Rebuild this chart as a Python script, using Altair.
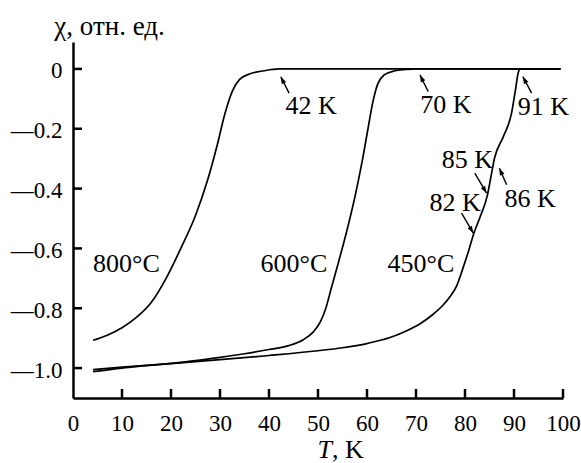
import math
import altair as alt
import pandas as pd

# --- susceptibility curves chi(T) after annealing at three temperatures ---
T_800 = [4.1, 7, 10, 13, 16, 19, 22, 25, 27.5, 29.5, 31, 32.5, 34, 36, 39, 42, 99.5]
chi_800 = [-0.907, -0.89, -0.865, -0.83, -0.78, -0.70, -0.60, -0.49, -0.37, -0.25, -0.15,
           -0.075, -0.035, -0.017, -0.006, 0, 0]

T_600 = [4.1, 10, 15, 20, 25, 30, 35, 40, 44, 47, 49, 50.5, 51.6, 52.6, 54.2, 55.9, 57.5,
         59, 60.2, 61.2, 62.2, 63.5, 65.5, 68, 70, 99.5]
chi_600 = [-1.012, -1.0, -0.992, -0.984, -0.975, -0.964, -0.952, -0.938, -0.925, -0.905,
           -0.88, -0.845, -0.80, -0.74, -0.645, -0.54, -0.43, -0.31, -0.20, -0.11, -0.05,
           -0.02, -0.007, -0.002, 0, 0]

T_450 = [4.1, 10, 20, 30, 40, 50, 55, 60, 64.7, 68, 71, 73.5, 75.5, 77, 78.3, 79.5, 80.7,
         81.8, 83.1, 84.6, 85.3, 86.0, 87.8, 89.5, 90.3, 90.9, 91.3, 99.5]
chi_450 = [-1.005, -0.997, -0.985, -0.972, -0.958, -0.942, -0.932, -0.918, -0.898, -0.876,
           -0.85, -0.82, -0.79, -0.76, -0.725, -0.67, -0.61, -0.55, -0.494, -0.42, -0.36,
           -0.30, -0.227, -0.148, -0.07, -0.01, 0, 0]

# --- axis ticks ---
x_ticks = [10, 20, 30, 40, 50, 60, 70, 80, 90, 100]
y_ticks = [0, -0.2, -0.4, -0.6, -0.8, -1.0]

# --- curve labels ---
curve_label = ["800°C", "600°C", "450°C"]
curve_label_T = [10.9, 45.1, 71.0]
curve_label_chi = [-0.68, -0.68, -0.68]

# --- transition-point annotations: label position, arrow tail and arrow head ---
tc_label = ["42 K", "70 K", "91 K", "85 K", "82 K", "86 K"]
tc_label_T = [48.6, 76.1, 96.0, 80.5, 78.0, 93.3]
tc_label_chi = [-0.150, -0.148, -0.154, -0.332, -0.476, -0.460]
tail_T = [44.1, 72.5, 93.6, 82.0, 79.3, 88.5]
tail_chi = [-0.081, -0.076, -0.081, -0.348, -0.482, -0.387]
head_T = [42.4, 70.8, 91.8, 84.4, 81.7, 87.0]
head_chi = [-0.026, -0.020, -0.026, -0.415, -0.549, -0.332]

W, H = 490, 356
X_DOMAIN = [0, 100]
Y_DOMAIN = [-1.1, 0.09]
FONT = "Liberation Serif"

curves = pd.concat([
    pd.DataFrame({"T": T_800, "chi": chi_800, "anneal": "800"}),
    pd.DataFrame({"T": T_600, "chi": chi_600, "anneal": "600"}),
    pd.DataFrame({"T": T_450, "chi": chi_450, "anneal": "450"}),
])

# arrowhead orientation in screen space
px_per_T = W / (X_DOMAIN[1] - X_DOMAIN[0])
px_per_chi = H / (Y_DOMAIN[1] - Y_DOMAIN[0])
angles = []
for t0, c0, t1, c1 in zip(tail_T, tail_chi, head_T, head_chi):
    dx = (t1 - t0) * px_per_T
    dy = -(c1 - c0) * px_per_chi
    angles.append(math.degrees(math.atan2(dx, -dy)) % 360)

arrows = pd.DataFrame({
    "label": tc_label, "lx": tc_label_T, "ly": tc_label_chi,
    "tx": tail_T, "ty": tail_chi, "hx": head_T, "hy": head_chi, "angle": angles,
})
labels = pd.DataFrame({"label": curve_label, "T": curve_label_T, "chi": curve_label_chi})
xt = pd.DataFrame({"T": x_ticks})
yt = pd.DataFrame({"chi": y_ticks})

xs = alt.Scale(domain=X_DOMAIN, nice=False, zero=False)
ys = alt.Scale(domain=Y_DOMAIN, nice=False, zero=False)

axis_style = dict(domainColor="black", domainWidth=2.5, ticks=False, tickSize=0, grid=False,
                  labelFont=FONT, labelFontSize=23, labelColor="black", labelFlush=False)
x_axis = alt.Axis(values=x_ticks + [0], title=None, labelBaseline="alphabetic",
                  labelPadding=32, labelOverlap=False, **axis_style)
y_axis = alt.Axis(values=y_ticks, title="χ, отн. ед.", titleAngle=0, titleX=36, titleY=-8,
                  titleAlign="center", titleBaseline="alphabetic", titleFont=FONT,
                  titleFontSize=27, titleFontWeight="normal", titleColor="black",
                  labelPadding=11, labelBaseline="middle", labelOffset=2,
                  labelExpr="datum.value < 0 ? '—' + format(-datum.value, '.1f') : '0'",
                  **axis_style)

base = alt.Chart(curves).encode(
    x=alt.X("T:Q", scale=xs, axis=x_axis),
    y=alt.Y("chi:Q", scale=ys, axis=y_axis),
)

lines = base.mark_line(color="black", strokeWidth=1.7, interpolate="monotone").encode(
    detail="anneal:N"
)

x_tick_marks = alt.Chart(xt).mark_rule(color="black", strokeWidth=2.5).encode(
    x=alt.X("T:Q", scale=xs), y=alt.value(H), y2=alt.value(H - 9)
)
y_tick_marks = alt.Chart(yt).mark_rule(color="black", strokeWidth=2.5).encode(
    y=alt.Y("chi:Q", scale=ys), x=alt.value(0), x2=alt.value(9)
)

curve_text = alt.Chart(labels).mark_text(
    font=FONT, fontSize=26, color="black", align="center", baseline="alphabetic"
).encode(x=alt.X("T:Q", scale=xs), y=alt.Y("chi:Q", scale=ys), text="label:N")

tc_text = alt.Chart(arrows).mark_text(
    font=FONT, fontSize=26, color="black", align="center", baseline="alphabetic"
).encode(x=alt.X("lx:Q", scale=xs), y=alt.Y("ly:Q", scale=ys), text="label:N")

arrow_shaft = alt.Chart(arrows).mark_rule(color="black", strokeWidth=1.4).encode(
    x=alt.X("tx:Q", scale=xs), y=alt.Y("ty:Q", scale=ys), x2="hx:Q", y2="hy:Q"
)
arrow_head = alt.Chart(arrows).mark_point(
    shape="M0,0L0.9,2.6L-0.9,2.6Z", filled=True, color="black", size=30, opacity=1
).encode(x=alt.X("hx:Q", scale=xs), y=alt.Y("hy:Q", scale=ys), angle=alt.Angle("angle:Q", scale=None))

# x-axis title with italic T
t_title = alt.Chart(pd.DataFrame({"s": ["T"]})).mark_text(
    font=FONT, fontSize=26, fontStyle="italic", color="black", align="right", baseline="alphabetic"
).encode(x=alt.value(259), y=alt.value(416), text="s:N")
k_title = alt.Chart(pd.DataFrame({"s": [", K"]})).mark_text(
    font=FONT, fontSize=26, color="black", align="left", baseline="alphabetic"
).encode(x=alt.value(259), y=alt.value(416), text="s:N")

chart = alt.layer(
    lines, x_tick_marks, y_tick_marks, curve_text, tc_text, arrow_shaft, arrow_head, t_title, k_title
).properties(
    width=W, height=H,
    autosize=alt.AutoSizeParams(type="none"),
    padding={"left": 73, "top": 42, "right": 18, "bottom": 65},
    background="white",
    view=alt.ViewBackground(stroke=None),
)

chart.save("out.html", embed_options={"renderer": "svg", "actions": False})
